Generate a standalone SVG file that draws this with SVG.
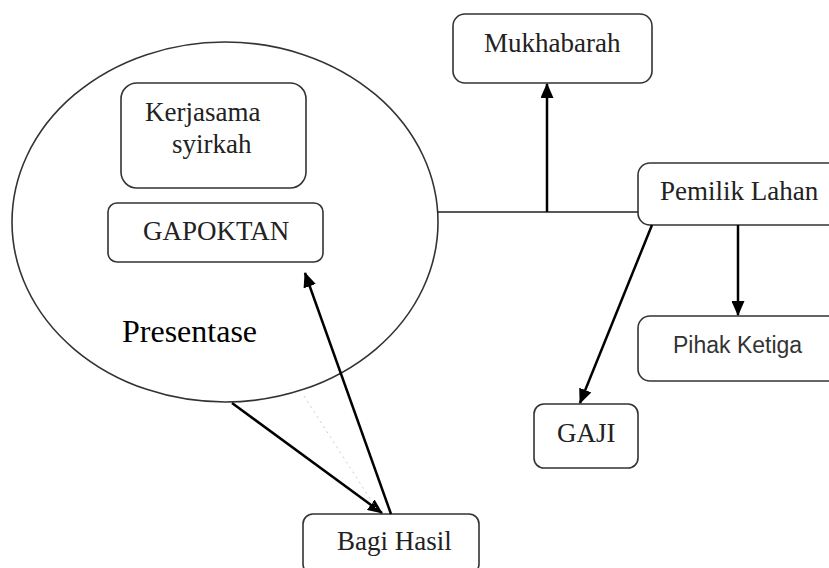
<svg xmlns="http://www.w3.org/2000/svg" width="829" height="568" viewBox="0 0 829 568">
<defs>
<marker id="ah" markerWidth="15" markerHeight="13" refX="14" refY="6.5" orient="auto" markerUnits="userSpaceOnUse" viewBox="0 0 15 13">
<path d="M0,0 L15,6.5 L0,13 z" fill="#000"/>
</marker>
</defs>
<style>
.box{fill:#fff;stroke:#333;stroke-width:1.6}
.t{font-family:"Liberation Serif","Times New Roman",serif;font-size:27px;fill:#222}
.s{font-family:"Liberation Sans",Arial,sans-serif;font-size:23px;fill:#333}
.c{stroke:#000;stroke-width:2.5;fill:none}
.thin{stroke:#222;stroke-width:1.5;fill:none}
</style>
<rect width="829" height="568" fill="#fff"/>
<g id="ellipse">
<ellipse cx="225" cy="222" rx="213" ry="180" fill="#fff" stroke="#333" stroke-width="1.6"/>
<text x="122" y="342" class="t" style="font-size:32px;fill:#000">Presentase</text>
</g>
<g id="kerjasama">
<rect class="box" x="121" y="83" width="185" height="105" rx="16"/>
<text x="145" y="121" class="t">Kerjasama</text>
<text x="172" y="153" class="t">syirkah</text>
</g>
<g id="gapoktan">
<rect class="box" x="108" y="203" width="215" height="59" rx="9"/>
<text x="143" y="240" class="t">GAPOKTAN</text>
</g>
<g id="mukhabarah">
<rect class="box" x="453" y="14" width="199" height="69" rx="12"/>
<text x="484" y="52" class="t">Mukhabarah</text>
</g>
<g id="pemilik">
<rect class="box" x="638" y="163" width="210" height="62" rx="12"/>
<text x="660" y="200" class="t">Pemilik Lahan</text>
</g>
<g id="pihak">
<rect class="box" x="638" y="316" width="210" height="65" rx="12"/>
<text x="673" y="353" class="s">Pihak Ketiga</text>
</g>
<g id="gaji">
<rect class="box" x="534" y="404" width="104" height="64" rx="10"/>
<text x="557" y="442" class="t">GAJI</text>
</g>
<g id="bagi">
<rect class="box" x="303" y="514" width="176" height="60" rx="10"/>
<text x="337" y="550" class="t">Bagi Hasil</text>
</g>
<g id="connectors">
<line class="thin" x1="437" y1="212" x2="638" y2="212"/>
<line class="c" x1="547" y1="212" x2="547" y2="84" marker-end="url(#ah)"/>
<line class="c" x1="738" y1="225" x2="738" y2="315" marker-end="url(#ah)"/>
<line class="c" x1="652" y1="225" x2="580" y2="403" marker-end="url(#ah)"/>
<line class="c" x1="232" y1="403" x2="382" y2="513" marker-end="url(#ah)"/>
<line class="c" x1="391" y1="514" x2="305" y2="273" marker-end="url(#ah)"/>
<line x1="304" y1="396" x2="376" y2="508" stroke="#ccc" stroke-width="1" stroke-dasharray="2,4"/>
</g>
</svg>
